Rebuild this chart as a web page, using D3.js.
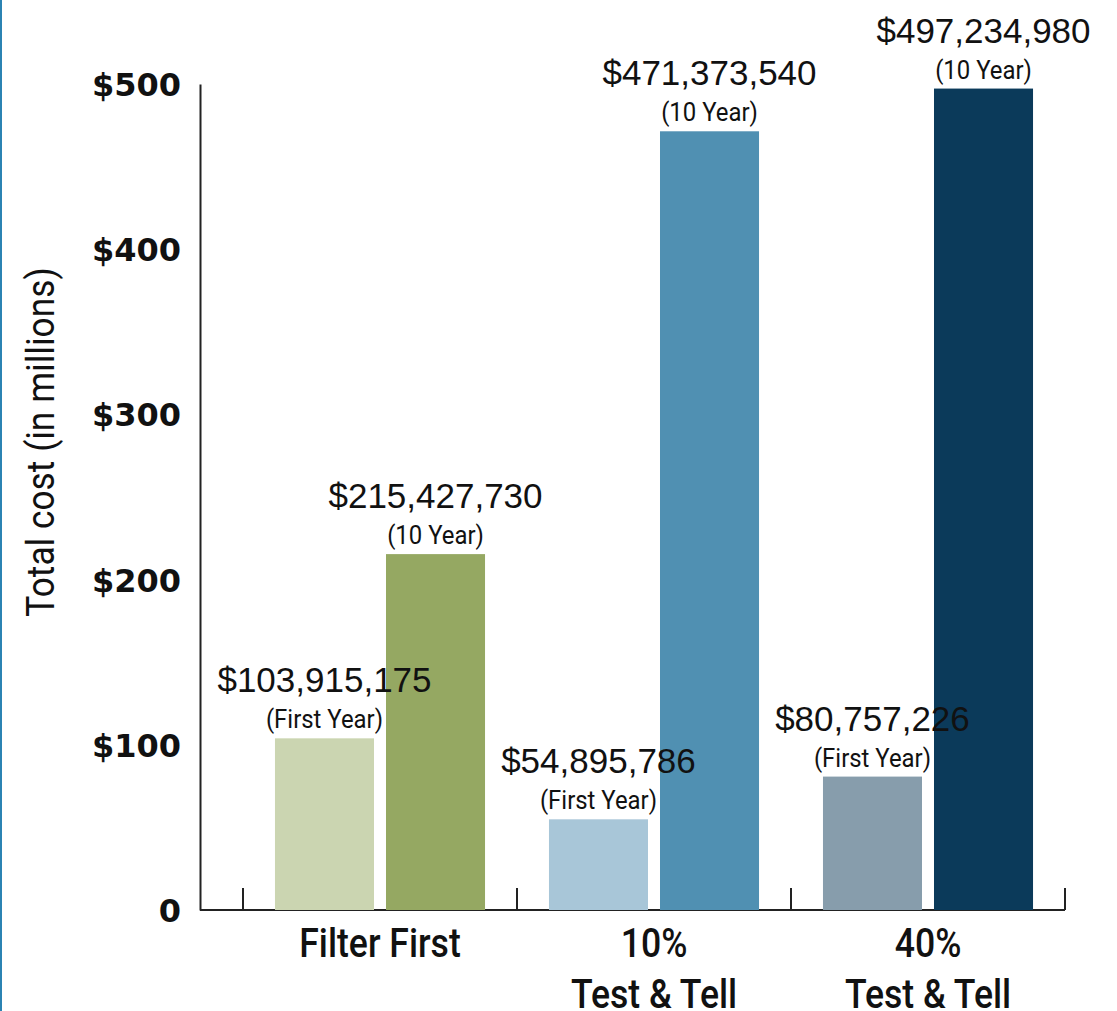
<!DOCTYPE html>
<html>
<head>
<meta charset="utf-8">
<script src="https://cdn.jsdelivr.net/npm/d3@7"></script>
<style>
  html, body { margin: 0; padding: 0; background: #fff; }
  svg { display: block; }
</style>
</head>
<body>
<div id="chart"></div>
<script>
// data
var groups = ["Filter First", "10% Test & Tell", "40% Test & Tell"];
var groupLines = [["Filter First"], ["10%", "Test & Tell"], ["40%", "Test & Tell"]];
var firstYear = [103915175, 54895786, 80757226];
var tenYear = [215427730, 471373540, 497234980];
var yTicks = [0, 100, 200, 300, 400, 500];
var seriesKeys = ["first", "ten"];
var seriesNames = ["(First Year)", "(10 Year)"];
var colors = [["#cbd5b1", "#95a862"], ["#a8c6d8", "#5090b2"], ["#879dac", "#0b3a5a"]];

const W = 1117, H = 1011;
const margin = { top: 84, bottom: 101, left: 200, right: 52 };

const svg = d3.select("#chart")
    .append("svg")
    .attr("width", W)
    .attr("height", H);

// left blue border
svg.append("rect")
    .attr("x", 0).attr("y", 0)
    .attr("width", 2).attr("height", H)
    .attr("fill", "#2b83b3");

var y = d3.scaleLinear()
    .domain([0, 500])
    .range([H - margin.bottom, margin.top]);

var x = d3.scaleBand()
    .domain(groups)
    .range([243, W - margin.right])
    .padding(0);

var xInner = d3.scaleBand()
    .domain(seriesKeys)
    .range([0, x.bandwidth()])
    .paddingInner(0.108)
    .paddingOuter(0.288);

// y axis
var y_axis = svg.append("g")
    .attr("transform", "translate(" + margin.left + ",0)")
    .call(d3.axisLeft(y).tickValues(yTicks).tickSize(0).tickPadding(19)
        .tickFormat(function (d) { return d === 0 ? "0" : "$" + d; }));

y_axis.select(".domain").attr("stroke", "#222").attr("stroke-width", 2);
y_axis.selectAll("text")
    .attr("fill", "#111")
    .attr("font-family", "'DejaVu Sans', sans-serif")
    .attr("font-weight", "bold")
    .attr("font-size", 32)
    .attr("dy", "0.36em");

// x axis line + ticks on band boundaries
var xTickPos = x.domain().map(function (d) { return x(d); }).concat([x.range()[1]]);
var x_axis = svg.append("g");
x_axis.append("line")
    .attr("x1", margin.left).attr("x2", x.range()[1])
    .attr("y1", y(0)).attr("y2", y(0))
    .attr("stroke", "#222").attr("stroke-width", 2);
x_axis.selectAll(".tick")
    .data(xTickPos)
    .enter().append("line")
    .attr("x1", function (d) { return d; }).attr("x2", function (d) { return d; })
    .attr("y1", y(0)).attr("y2", y(0) - 22)
    .attr("stroke", "#222").attr("stroke-width", 2);

// bars
var barData = [];
groups.forEach(function (g, i) {
    barData.push({ group: g, gi: i, key: "first", si: 0, value: firstYear[i] });
    barData.push({ group: g, gi: i, key: "ten", si: 1, value: tenYear[i] });
});

svg.append("g").selectAll("rect")
    .data(barData)
    .enter().append("rect")
    .attr("x", function (d) { return x(d.group) + xInner(d.key); })
    .attr("width", xInner.bandwidth())
    .attr("y", function (d) { return y(d.value / 1e6); })
    .attr("height", function (d) { return y(0) - y(d.value / 1e6); })
    .attr("fill", function (d) { return colors[d.gi][d.si]; });

// value labels
var fmt = d3.format(",");
var labels = svg.append("g");
barData.forEach(function (d) {
    var cx = x(d.group) + xInner(d.key) + xInner.bandwidth() / 2;
    var top = y(d.value / 1e6);
    labels.append("text")
        .attr("x", cx).attr("y", top - 46)
        .attr("text-anchor", "middle")
        .attr("font-family", "'Liberation Sans', Arial, sans-serif")
        .attr("font-size", 35)
        .attr("fill", "#111")
        .text("$" + fmt(d.value));
    labels.append("text")
        .attr("transform", "translate(" + cx + "," + (top - 10) + ") scale(0.92,1)")
        .attr("text-anchor", "middle")
        .attr("font-family", "Roboto, sans-serif")
        .attr("font-size", 26)
        .attr("fill", "#111")
        .text(seriesNames[d.si]);
});

// category labels
groups.forEach(function (g, i) {
    groupLines[i].forEach(function (line, j) {
        svg.append("text")
            .attr("transform", "translate(" + (x(g) + x.bandwidth() / 2) + "," + (957 + j * 51) + ") scale(0.89,1)")
            .attr("text-anchor", "middle")
            .attr("font-family", "Roboto, sans-serif")
            .attr("font-weight", 500)
            .attr("font-size", 40)
            .attr("fill", "#111")
            .text(line);
    });
});

// y axis title
svg.append("text")
    .attr("transform", "translate(54," + ((y(0) + y(500)) / 2 - 55) + ") rotate(-90) scale(0.93,1)")
    .attr("text-anchor", "middle")
    .attr("font-family", "Roboto, sans-serif")
    .attr("font-size", 38)
    .attr("fill", "#111")
    .text("Total cost (in millions)");
</script>
</body>
</html>
